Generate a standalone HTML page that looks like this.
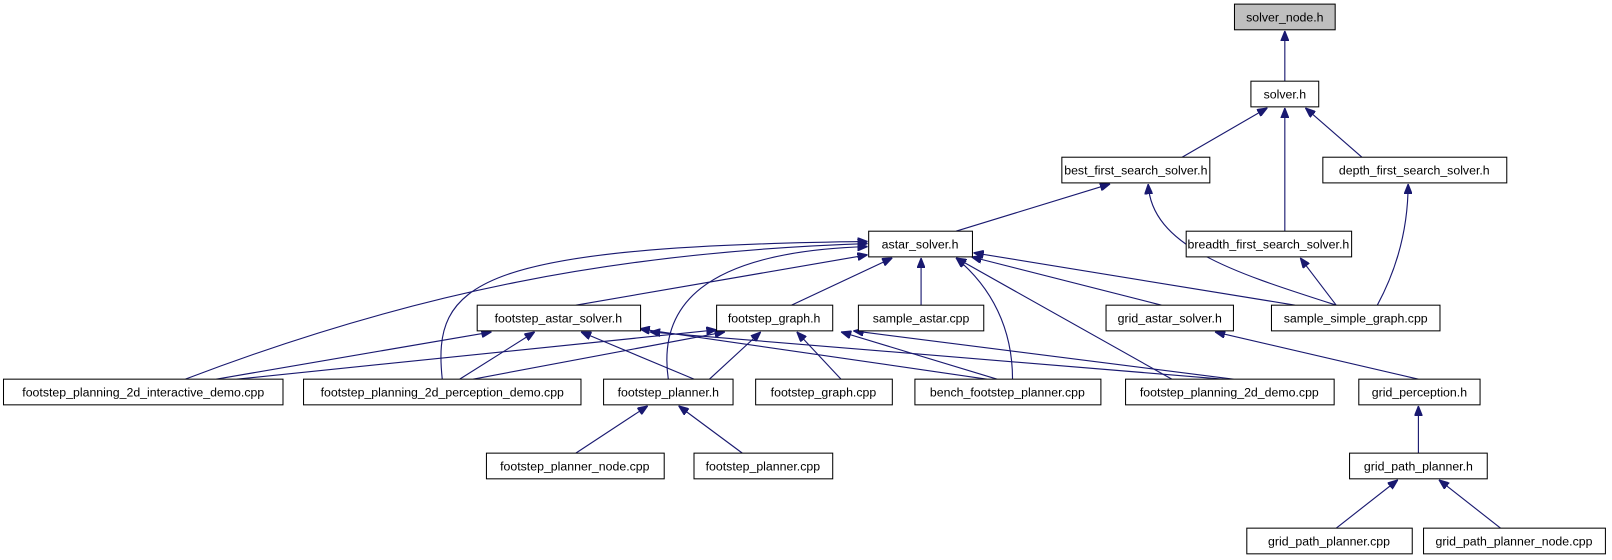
<!DOCTYPE html>
<html><head><meta charset="utf-8"><style>
html,body{margin:0;padding:0;background:#fff;}
svg{display:block}
text{font-family:"Liberation Sans",sans-serif;font-size:12px;fill:#000;text-anchor:middle}
.n{fill:#fff;stroke:#000;stroke-width:1}
.e{fill:none;stroke:#191970;stroke-width:1.1}
</style></head><body>
<svg width="1612" height="560" viewBox="0 0 1568 545" xmlns="http://www.w3.org/2000/svg">
<defs><marker id="a" viewBox="0 0 10 8" refX="10" refY="4" markerWidth="10" markerHeight="8" markerUnits="userSpaceOnUse" orient="auto"><path d="M0,0 L10,4 L0,8 z" fill="#191970" stroke="#191970"/></marker></defs>
<g class="e" marker-end="url(#a)">
<path d="M1250,79 L1250,30" marker-end="url(#a)"/>
<path d="M1150,153 L1233,105" marker-end="url(#a)"/>
<path d="M1250,225 L1250,105" marker-end="url(#a)"/>
<path d="M1325,153 L1270,105" marker-end="url(#a)"/>
<path d="M930,225 L1080,179" marker-end="url(#a)"/>
<path d="M1300,297 C1200,265 1120,240 1117,179" marker-end="url(#a)"/>
<path d="M1300,297 L1265,251" marker-end="url(#a)"/>
<path d="M1340,297 C1360,260 1370,220 1370,179" marker-end="url(#a)"/>
<path d="M1260,297 L947,246" marker-end="url(#a)"/>
<path d="M560,297 L844,248" marker-end="url(#a)"/>
<path d="M770,297 L868,251" marker-end="url(#a)"/>
<path d="M896,297 L896,251" marker-end="url(#a)"/>
<path d="M1130,297 L945,250" marker-end="url(#a)"/>
<path d="M1140,369 L930,251" marker-end="url(#a)"/>
<path d="M985,369 C985,320 965,280 930,251" marker-end="url(#a)"/>
<path d="M180,369 C400,285 600,245 844,237" marker-end="url(#a)"/>
<path d="M430,369 C420,275 460,240 844,235" marker-end="url(#a)"/>
<path d="M650,369 C640,300 680,245 844,240" marker-end="url(#a)"/>
<path d="M1380,369 L1182,323" marker-end="url(#a)"/>
<path d="M210,369 L478,323" marker-end="url(#a)"/>
<path d="M447,369 L520,323" marker-end="url(#a)"/>
<path d="M675,369 L565,323" marker-end="url(#a)"/>
<path d="M960,369 L622,320" marker-end="url(#a)"/>
<path d="M1190,369 L632,323" marker-end="url(#a)"/>
<path d="M230,369 L697,321" marker-end="url(#a)"/>
<path d="M460,369 L705,323" marker-end="url(#a)"/>
<path d="M690,369 L740,323" marker-end="url(#a)"/>
<path d="M818,369 L775,323" marker-end="url(#a)"/>
<path d="M970,369 L818,323" marker-end="url(#a)"/>
<path d="M1200,369 L830,322" marker-end="url(#a)"/>
<path d="M560,441 L630,395" marker-end="url(#a)"/>
<path d="M722,441 L660,395" marker-end="url(#a)"/>
<path d="M1380,441 L1380,395" marker-end="url(#a)"/>
<path d="M1300,514 L1360,467" marker-end="url(#a)"/>
<path d="M1460,514 L1400,467" marker-end="url(#a)"/>
</g>
<rect x="1201" y="4" width="98" height="25" fill="#bfbfbf" stroke="#000"/><text x="1250" y="21">solver_node.h</text>
<rect class="n" x="1217" y="79" width="66" height="25"/><text x="1250" y="96">solver.h</text>
<rect class="n" x="1033" y="153" width="144" height="25"/><text x="1105" y="170">best_first_search_solver.h</text>
<rect class="n" x="1287" y="153" width="179" height="25"/><text x="1376" y="170">depth_first_search_solver.h</text>
<rect class="n" x="845" y="225" width="101" height="25"/><text x="895" y="242">astar_solver.h</text>
<rect class="n" x="1154" y="225" width="161" height="25"/><text x="1234" y="242">breadth_first_search_solver.h</text>
<rect class="n" x="464" y="297" width="159" height="25"/><text x="543" y="314">footstep_astar_solver.h</text>
<rect class="n" x="697" y="297" width="113" height="25"/><text x="753" y="314">footstep_graph.h</text>
<rect class="n" x="835" y="297" width="122" height="25"/><text x="896" y="314">sample_astar.cpp</text>
<rect class="n" x="1076" y="297" width="124" height="25"/><text x="1138" y="314">grid_astar_solver.h</text>
<rect class="n" x="1237" y="297" width="164" height="25"/><text x="1319" y="314">sample_simple_graph.cpp</text>
<rect class="n" x="3" y="369" width="272" height="25"/><text x="139" y="386">footstep_planning_2d_interactive_demo.cpp</text>
<rect class="n" x="295" y="369" width="270" height="25"/><text x="430" y="386">footstep_planning_2d_perception_demo.cpp</text>
<rect class="n" x="587" y="369" width="126" height="25"/><text x="650" y="386">footstep_planner.h</text>
<rect class="n" x="735" y="369" width="133" height="25"/><text x="801" y="386">footstep_graph.cpp</text>
<rect class="n" x="890" y="369" width="181" height="25"/><text x="980" y="386">bench_footstep_planner.cpp</text>
<rect class="n" x="1095" y="369" width="203" height="25"/><text x="1196" y="386">footstep_planning_2d_demo.cpp</text>
<rect class="n" x="1322" y="369" width="118" height="25"/><text x="1381" y="386">grid_perception.h</text>
<rect class="n" x="473" y="441" width="173" height="25"/><text x="559" y="458">footstep_planner_node.cpp</text>
<rect class="n" x="675" y="441" width="135" height="25"/><text x="742" y="458">footstep_planner.cpp</text>
<rect class="n" x="1313" y="441" width="134" height="25"/><text x="1380" y="458">grid_path_planner.h</text>
<rect class="n" x="1213" y="514" width="161" height="25"/><text x="1293" y="531">grid_path_planner.cpp</text>
<rect class="n" x="1385" y="514" width="177" height="25"/><text x="1473" y="531">grid_path_planner_node.cpp</text>
</svg>
</body></html>
